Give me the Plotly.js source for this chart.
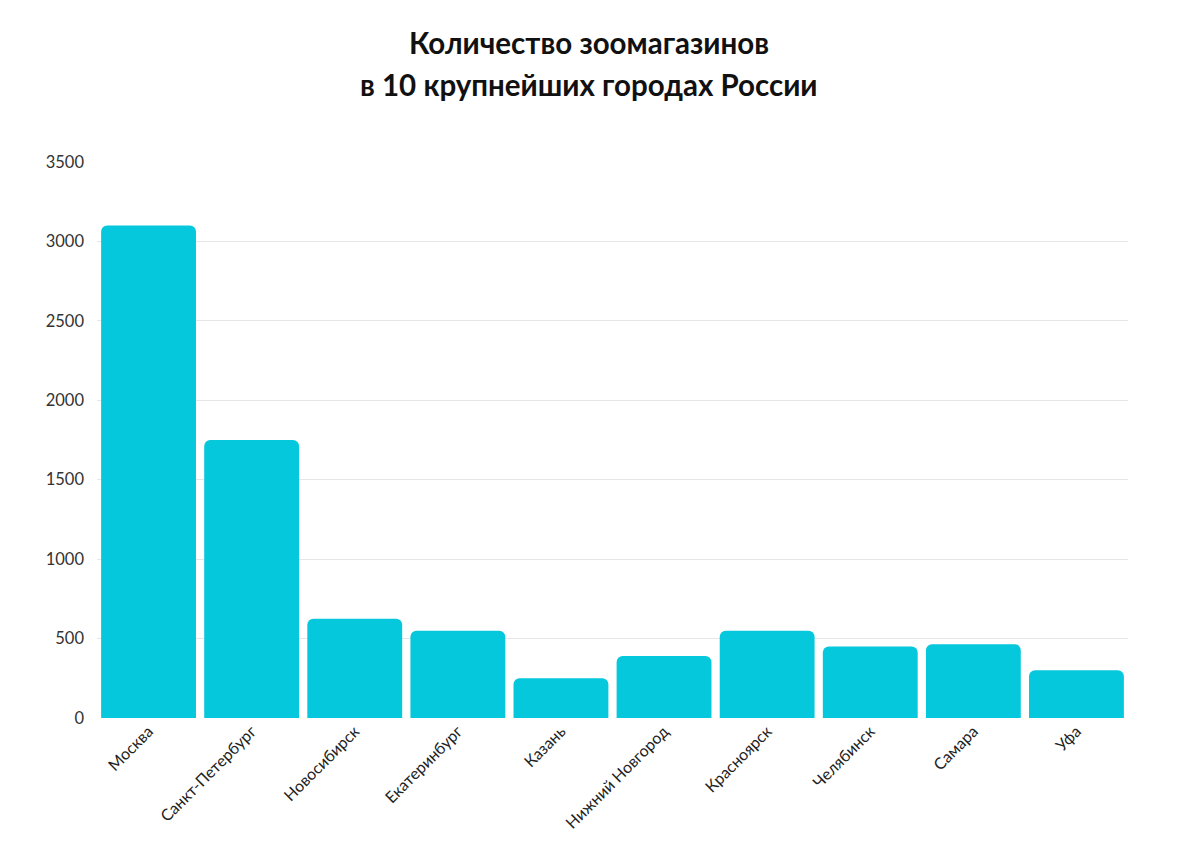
<!DOCTYPE html>
<html>
<head>
<meta charset="utf-8">
<script src="https://cdn.plot.ly/plotly-3.0.1.min.js"></script>
<style>html,body{margin:0;padding:0;background:#fff;}#chart{width:1180px;height:868px;}</style>
</head>
<body>
<div id="chart"></div>
<script>
const cities = ["Москва","Санкт-Петербург","Новосибирск","Екатеринбург","Казань","Нижний Новгород","Красноярск","Челябинск","Самара","Уфа"];
const shops = [3100, 1750, 625, 550, 250, 390, 550, 450, 465, 300];
const yTicks = [0, 500, 1000, 1500, 2000, 2500, 3000, 3500];
const titleLines = ["Количество зоомагазинов", "в 10 крупнейших городах России"];

const titleFont = {family: "Lato, 'Open Sans', sans-serif", size: 29.5, color: "#111"};

Plotly.newPlot("chart", [{
  type: "bar",
  x: cities,
  y: shops,
  marker: {color: "#06c8dc", cornerradius: 6},
  hoverinfo: "x+y"
}], {
  width: 1180, height: 868,
  paper_bgcolor: "#ffffff", plot_bgcolor: "#ffffff",
  margin: {l: 97, r: 52, t: 162, b: 150},
  bargap: 0.08,
  annotations: [
    {text: "<b>" + titleLines[0] + "</b>", xref: "paper", yref: "paper", x: 0.477, y: 1.2158,
     xanchor: "center", yanchor: "middle", showarrow: false, font: titleFont},
    {text: "<b>" + titleLines[1] + "</b>", xref: "paper", yref: "paper", x: 0.477, y: 1.1385,
     xanchor: "center", yanchor: "middle", showarrow: false, font: titleFont}
  ],
  xaxis: {
    tickangle: -45,
    tickfont: {family: "Lato, 'Open Sans', sans-serif", size: 16, color: "#222"},
    showgrid: false, zeroline: false, showline: false, ticks: ""
  },
  yaxis: {
    range: [0, 3500],
    tickvals: yTicks,
    tickfont: {family: "Lato, 'Open Sans', sans-serif", size: 16.5, color: "#333"},
    gridcolor: "#e6e6e6", gridwidth: 1,
    zeroline: false, showline: false, ticks: "", ticklabelstandoff: 12
  },
  showlegend: false
}, {displayModeBar: false});
</script>
</body>
</html>
